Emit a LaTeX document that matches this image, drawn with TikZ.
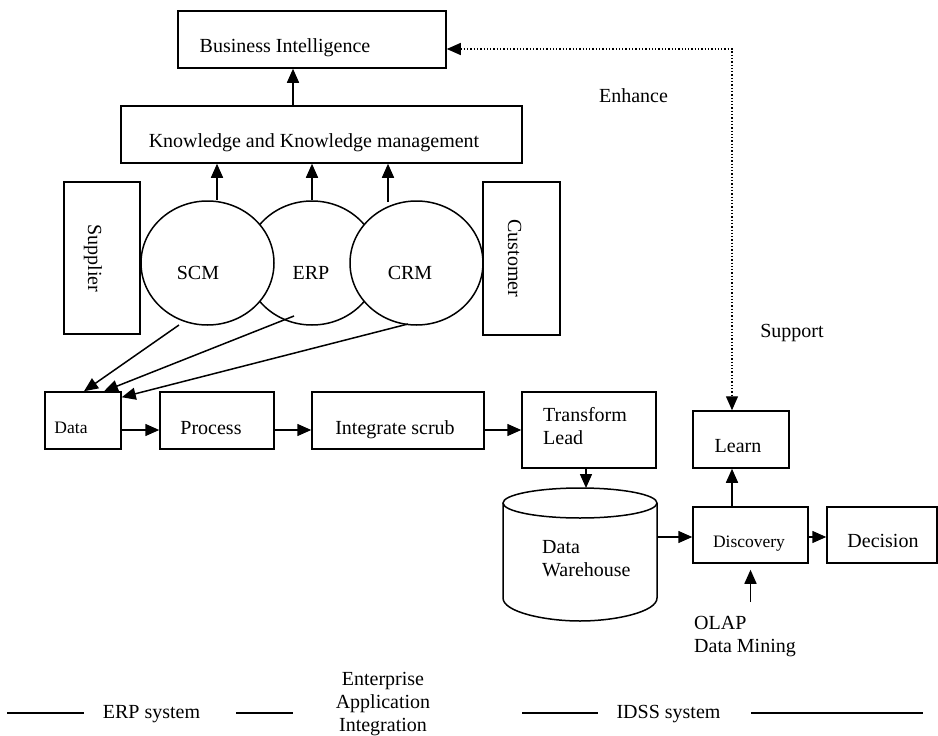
\documentclass[tikz,border=0pt]{standalone}
\usepackage{fontspec}
\setmainfont{Liberation Serif}
\usetikzlibrary{arrows.meta,shapes.geometric,calc}
\begin{document}
\begin{tikzpicture}[x=1pt,y=-1pt,
  box/.style={draw, line width=1.5pt, rectangle, inner sep=0pt},
  oval/.style={draw, line width=1.5pt, ellipse, fill=white, inner sep=0pt, minimum width=133pt, minimum height=124pt},
  txt/.style={inner sep=0pt, font=\fontsize{20}{23}\selectfont},
  stxt/.style={inner sep=0pt, font=\fontsize{17.5}{20}\selectfont},
  arr/.style={line width=1.5pt, -{Triangle[length=14pt,width=12pt]}},
  dotarr/.style={line width=1.3pt, dotted, {Triangle[length=14pt,width=12pt]}-{Triangle[length=14pt,width=12pt]}},
  leg/.style={line width=1.5pt}]
\useasboundingbox (0,0) rectangle (938,736);

% boxes
\node[box, minimum width=268pt, minimum height=57pt] (bi) at (312,39.5) {};
\node[box, minimum width=401pt, minimum height=57pt] (kkm) at (321.5,134.5) {};
\node[box, minimum width=76pt, minimum height=152pt] (sup) at (102,258) {};
\node[box, minimum width=77pt, minimum height=153pt] (cus) at (521.5,258.5) {};
\node[oval] (erp) at (312,263) {};
\node[oval] (scm) at (207.5,263) {};
\node[oval] (crm) at (416.5,263) {};
\node[box, minimum width=76pt, minimum height=57pt] (data) at (83,420.5) {};
\node[box, minimum width=114pt, minimum height=57pt] (proc) at (217,420.5) {};
\node[box, minimum width=172pt, minimum height=57pt] (integ) at (398,420.5) {};
\node[box, minimum width=134pt, minimum height=76pt] (trans) at (589,430) {};
\node[box, minimum width=96pt, minimum height=57pt] (learn) at (741,439.5) {};
\node[box, minimum width=115pt, minimum height=56pt] (disc) at (750.5,535) {};
\node[box, minimum width=110pt, minimum height=56pt] (dec) at (882,535) {};

% data warehouse cylinder
\draw[line width=1.5pt, fill=white] (503,503) -- (503,598) .. controls (503,612) and (545,621) .. (580,621) .. controls (615,621) and (657,612) .. (657,598) -- (657,503);
\draw[line width=1.5pt] (580,503) ellipse [x radius=77, y radius=15];
\coordinate (whtop) at (586,488);
\coordinate (wheast) at (657,537);

% texts
\node[txt, anchor=base] (bit) at (285,52) {Business Intelligence};
\node[txt, anchor=base] (kkmt) at (314,147) {Knowledge and Knowledge management};
\node[txt, anchor=base, rotate=-90] (supt) at (88,258.5) {Supplier};
\node[txt, anchor=base, rotate=-90] (cust) at (508,258.5) {Customer};
\node[txt, anchor=base] (scmt) at (198,279) {SCM};
\node[txt, anchor=base] (erpt) at (311,279) {ERP};
\node[txt, anchor=base] (crmt) at (410,279) {CRM};
\node[stxt, anchor=base] (datat) at (71,433) {Data};
\node[txt, anchor=base] (proct) at (211,434) {Process};
\node[txt, anchor=base] (integt) at (395,434) {Integrate scrub};
\node[txt, anchor=north west, align=left] (transt) at (543,407) {Transform\\Lead};
\node[txt, anchor=base] (learnt) at (738,452) {Learn};
\node[txt, anchor=north west, align=left] (wht) at (542,540) {Data\\Warehouse};
\node[stxt, anchor=base] (disct) at (749,547) {Discovery};
\node[txt, anchor=base] (dect) at (883,547) {Decision};
\node[txt, anchor=base] (enh) at (633.5,102) {Enhance};
\node[txt, anchor=base] (supp) at (792,337) {Support};
\node[txt, anchor=north west, align=left] (olap) at (694,616) {OLAP\\Data Mining};

% legend
\node[txt, anchor=base] (erps) at (151.5,718) {ERP system};
\node[txt, align=center, anchor=north] (eai) at (383,672) {Enterprise\\Application\\Integration};
\node[txt, anchor=base] (idss) at (668.5,718) {IDSS system};
\coordinate (l1a) at (7,713);   \coordinate (l1b) at (84,713);
\coordinate (l2a) at (236,713); \coordinate (l2b) at (293,713);
\coordinate (l3a) at (522,713); \coordinate (l3b) at (598,713);
\coordinate (l4a) at (751,713); \coordinate (l4b) at (923,713);
\draw[leg] (l1a) -- (l1b);
\draw[leg] (l2a) -- (l2b);
\draw[leg] (l3a) -- (l3b);
\draw[leg] (l4a) -- (l4b);

% connectors
\draw[arr] ([xshift=-28.5pt]kkm.north) -- ([xshift=-28.5pt]kkm.north |- bi.south);
\draw[arr] ([xshift=9.5pt]scm.north) -- ([xshift=9.5pt]scm.north |- kkm.south);
\draw[arr] (erp.north) -- (erp.north |- kkm.south);
\draw[arr] ([shift={(-28.5,-61)}]crm.center) -- ([xshift=-28.5pt]crm.center |- kkm.south);
\draw[arr] ([shift={(-28.5,62)}]scm.center) -- ([xshift=1pt]data.north);
\draw[arr] ([shift={(-18,53)}]erp.center) -- ([xshift=21pt]data.north);
\draw[arr] ([shift={(-8.5,61)}]crm.center) -- ([yshift=-6pt]data.north east);
\draw[arr] ([yshift=-9.5pt]data.east) -- ([yshift=-9.5pt]data.east -| proc.west);
\draw[arr] ([yshift=-9.5pt]proc.east) -- ([yshift=-9.5pt]proc.east -| integ.west);
\draw[arr] (integ.east |- trans.west) -- (trans.west);
\draw[arr] ([xshift=-3pt]trans.south) -- (whtop);
\draw[arr] (wheast) -- (wheast -| disc.west);
\draw[arr] ([yshift=-2pt]disc.east) -- ([yshift=-2pt]disc.east -| dec.west);
\draw[arr] ([xshift=-18.5pt]disc.north) -- ([xshift=-18.5pt]disc.north |- learn.south);
\draw[arr] ([yshift=14pt]olap.north -| disc.south) -- ([yshift=-6pt]disc.south);
\draw[dotarr] ([yshift=-9.5pt]bi.east) -| ([xshift=-9pt]learn.north);
\end{tikzpicture}
\end{document}
